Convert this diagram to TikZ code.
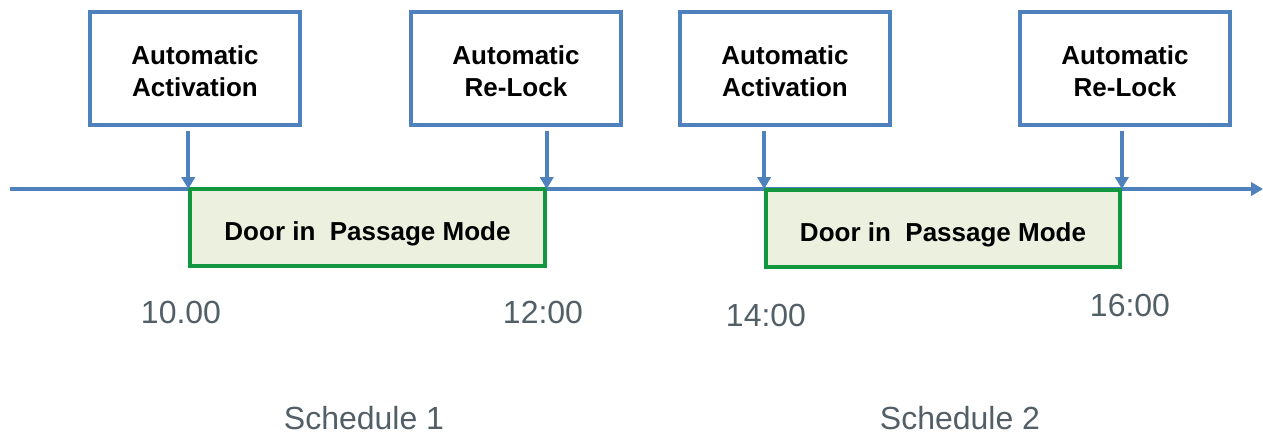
\documentclass[tikz,border=0pt]{standalone}
\usepackage{fontspec}
\setmainfont{Liberation Sans}
\usetikzlibrary{arrows.meta,positioning}
\definecolor{lineblue}{HTML}{4F81BD}
\definecolor{modegreen}{HTML}{12973F}
\definecolor{modefill}{HTML}{EBF0DF}
\definecolor{labelgray}{HTML}{525F67}
\begin{document}
\begin{tikzpicture}[x=0.75pt,y=-0.75pt,
  event/.style={draw=lineblue,line width=2.8pt,fill=white,align=center,
    minimum width=157pt,minimum height=84.5pt,inner sep=0pt,
    text height=41.5pt,
    font=\fontsize{19.5}{24}\selectfont\bfseries},
  mode/.style={draw=modegreen,line width=2.8pt,fill=modefill,
    minimum height=58pt,inner sep=0pt,text height=23pt,text depth=4pt,
    font=\fontsize{19.5}{24}\selectfont\bfseries},
  hour/.style={text=labelgray,font=\fontsize{24}{28}\selectfont},
  pointer/.style={draw=lineblue,line width=3pt,-{Triangle[length=9pt,width=10pt]}}]
\useasboundingbox (0,0) rectangle (1263,436);
% time line
\coordinate (tl0) at (10,189);
\coordinate (tl1) at (1263,189);
\draw[pointer] (tl0)--(tl1);
% passage mode periods
\node[mode,minimum width=266pt] (m1) at (367.5,227.5) {Door in \ Passage Mode};
\node[mode,minimum width=265.5pt] (m2) at (943,228.5) {Door in \ Passage Mode};
% scheduled events
\node[event] (e1) at (195,68.5) {Automatic\\Activation};
\node[event] (e2) at (516,68.5) {Automatic\\Re-Lock};
\node[event] (e3) at (785,68.5) {Automatic\\Activation};
\node[event] (e4) at (1125,68.5) {Automatic\\Re-Lock};
\draw[pointer,shorten <=3.5pt] (e1.south-|m1.west)--(tl0-|m1.west);
\draw[pointer,shorten <=3.5pt] (e2.south-|m1.east)--(tl0-|m1.east);
\draw[pointer,shorten <=3.5pt] (e3.south-|m2.west)--(tl0-|m2.west);
\draw[pointer,shorten <=3.5pt] (e4.south-|m2.east)--(tl0-|m2.east);
% hours
\node[hour] (h1) at (181,312) {10.00};
\node[hour] (h2) at (543,312) {12:00};
\node[hour] (h3) at (766,315) {14:00};
\node[hour] (h4) at (1130,305) {16:00};
\node[hour] (s1) at (364,418) {Schedule 1};
\node[hour] (s2) at (960,418) {Schedule 2};
\end{tikzpicture}
\end{document}
